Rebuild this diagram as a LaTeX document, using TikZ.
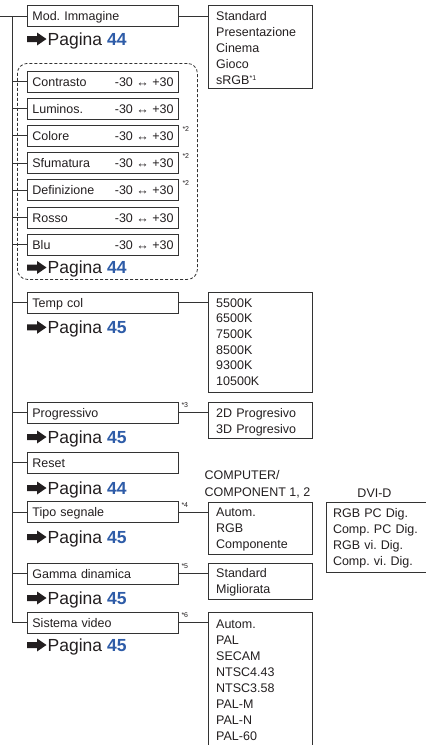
\documentclass[tikz,border=0pt]{standalone}
\usepackage{fontspec}
\setmainfont{Liberation Sans}
\usetikzlibrary{calc}
\definecolor{ink}{HTML}{231F20}
\definecolor{lin}{HTML}{333333}
\definecolor{pblue}{RGB}{46,92,168}
\tikzset{
 mbox/.style={draw=lin, line width=0.8pt, minimum width=151pt, minimum height=21pt, anchor=west,
   inner sep=0pt, text width=141pt, align=left, text height=9pt, text depth=0pt,
   font=\fontsize{12.5}{15}\selectfont, text=ink},
 rng/.style={anchor=east, inner xsep=5pt, inner ysep=0pt, text height=9pt, text depth=0pt,
   font=\fontsize{12.5}{15}\selectfont, text=ink},
 lbox/.style={draw=lin, line width=0.8pt, minimum width=104pt, anchor=north west, inner sep=0pt},
 ltext/.style={anchor=north west, inner sep=0pt, text width=96pt, align=left,
   font=\fontsize{12.5}{16}\selectfont, text=ink},
 lbl/.style={anchor=base west, inner sep=0pt, font=\fontsize{12.5}{16}\selectfont, text=ink},
 supn/.style={anchor=north west, inner sep=0pt, font=\fontsize{7}{7}\selectfont, text=ink},
 pag/.style={anchor=base west, inner sep=0pt, font=\fontsize{17.5}{20}\selectfont, text=ink},
 conn/.style={draw=lin, line width=1pt},
 grpbox/.style={draw=lin, line width=0.8pt, dash pattern=on 3pt off 2pt, rounded corners=10pt,
   minimum width=180pt, minimum height=216pt, anchor=north west, inner sep=0pt},
 pgarr/.pic={\fill[ink] (0,-3) -- (10,-3) -- (10,-6.5) -- (19.5,0) -- (10,6.5) -- (10,3) -- (0,3) -- cycle;}
}
\newcommand\pgn[1]{Pagina \textbf{\color{pblue}#1}}
\frenchspacing
\begin{document}
\begin{tikzpicture}[x=1pt,y=-1pt]
\useasboundingbox (0,0) rectangle (426,745);
\clip (0,0) rectangle (426,745);
\fill[white] (0,0) rectangle (426,745);

\coordinate (root) at (0,16);
\coordinate (trunk) at (12,16);

% Mod. Immagine
\node[mbox] (mod) at (27,16) {Mod. Immagine};
\node[lbox, minimum height=83pt] (modl) at (208,5) {};
\node[ltext] (modt) at (216,11.4) {Standard\\Presentazione\\Cinema\\Gioco\\sRGB\raisebox{4pt}{\fontsize{7}{7}\selectfont *1}};
\draw[conn] (mod.east) -- (mod.east -| modl.west);
\pic at (27,39) {pgarr};
\node[pag] (pg1) at (47.5,45.3) {\pgn{44}};

% dashed group
\node[grpbox] (grp) at (17,63) {};
\foreach \n/\t/\y in {con/Contrasto/81.5, lum/Luminos./108.7, col/Colore/135.9, sfu/Sfumatura/163.1, def/Definizione/190.3, ros/Rosso/217.5, blu/Blu/244.7}{
  \node[mbox] (\n) at (27,\y) {\t};
  \node[rng] (\n r) at (\n.east) {-30 ↔ +30};
  \draw[conn] (trunk |- \n.west) -- (\n.west);
}
\node[supn] (s2a) at ($(col.north east)+(3.5,1)$) {*2};
\node[supn] (s2b) at ($(sfu.north east)+(3.5,1)$) {*2};
\node[supn] (s2c) at ($(def.north east)+(3.5,1)$) {*2};
\pic at (27,267.5) {pgarr};
\node[pag] (pg2) at (47.5,273.3) {\pgn{44}};

% Temp col
\node[mbox] (tmp) at (27,302.5) {Temp col};
\node[lbox, minimum height=100pt] (tmpl) at (208,292) {};
\node[ltext, font=\fontsize{12.5}{15.7}\selectfont] (tmpt) at (216,298.1) {5500K\\6500K\\7500K\\8500K\\9300K\\10500K};
\draw[conn] (trunk |- tmp.west) -- (tmp.west);
\draw[conn] (tmp.east) -- (tmp.east -| tmpl.west);
\pic at (27,327.3) {pgarr};
\node[pag] (pg3) at (47.5,333.3) {\pgn{45}};

% Progressivo
\node[mbox] (prg) at (27,412.5) {Progressivo};
\node[supn] (s3) at ($(prg.north east)+(2.5,1)$) {*3};
\node[lbox, minimum height=36pt] (prgl) at (208,402) {};
\node[ltext] (prgt) at (216,408.1) {2D Progresivo\\3D Progresivo};
\draw[conn] (trunk |- prg.west) -- (prg.west);
\draw[conn] (prg.east) -- (prg.east -| prgl.west);
\pic at (27,437) {pgarr};
\node[pag] (pg4) at (47.5,443.3) {\pgn{45}};

% Reset
\node[mbox] (rst) at (27,462.5) {Reset};
\draw[conn] (trunk |- rst.west) -- (rst.west);
\pic at (27,488) {pgarr};
\node[pag] (pg5) at (47.5,494.3) {\pgn{44}};

% Tipo segnale
\node[lbl] (cmp1) at (204.5,479.5) {COMPUTER/};
\node[lbl] (cmp2) at (204.5,496.8) {COMPONENT 1, 2};
\node[lbl, anchor=base] (dvi) at (374.5,497.3) {DVI-D};
\node[mbox] (tip) at (27,512) {Tipo segnale};
\node[supn] (s4) at ($(tip.north east)+(2.5,1)$) {*4};
\node[lbox, minimum height=52pt] (tipl) at (208,502) {};
\node[ltext] (tipt) at (216,508.1) {Autom.\\RGB\\Componente};
\node[lbox, minimum height=70pt] (dvil) at (326,502) {};
\node[ltext] (dvit) at (332.8,508.1) {RGB PC Dig.\\Comp. PC Dig.\\RGB vi. Dig.\\Comp. vi. Dig.};
\draw[conn] (trunk |- tip.west) -- (tip.west);
\draw[conn] (tip.east) -- (tip.east -| tipl.west);
\pic at (27,537) {pgarr};
\node[pag] (pg6) at (47.5,543.3) {\pgn{45}};

% Gamma dinamica
\node[mbox] (gam) at (27,573.5) {Gamma dinamica};
\node[supn] (s5) at ($(gam.north east)+(2.5,1)$) {*5};
\node[lbox, minimum height=36pt] (gaml) at (208,563) {};
\node[ltext] (gamt) at (216,568.7) {Standard\\Migliorata};
\draw[conn] (trunk |- gam.west) -- (gam.west);
\draw[conn] (gam.east) -- (gam.east -| gaml.west);
\pic at (27,598) {pgarr};
\node[pag] (pg7) at (47.5,604.3) {\pgn{45}};

% Sistema video
\node[mbox] (sis) at (27,622.5) {Sistema video};
\node[supn] (s6) at ($(sis.north east)+(2.5,1)$) {*6};
\node[lbox, minimum height=150pt] (sisl) at (208,612) {};
\node[ltext] (sist) at (216,619.7) {Autom.\\PAL\\SECAM\\NTSC4.43\\NTSC3.58\\PAL-M\\PAL-N\\PAL-60};
\draw[conn] (sis.east) -- (sis.east -| sisl.west);
\pic at (27,645) {pgarr};
\node[pag] (pg8) at (47.5,651.3) {\pgn{45}};

% trunk
\draw[conn] (root) -- (mod.west);
\draw[conn] (trunk) |- (sis.west);
\end{tikzpicture}
\end{document}
